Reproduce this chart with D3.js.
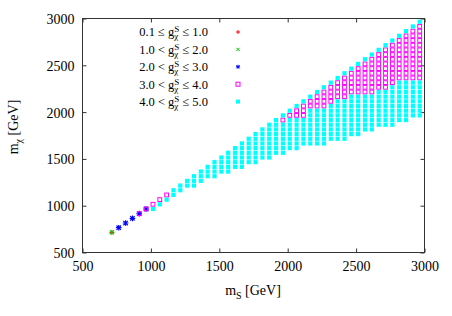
<!DOCTYPE html>
<html lang="en">
    <head>
        <meta charset="utf-8">
        <title>m_S vs m_chi scan</title>
        <script type="text/javascript" src="https://d3js.org/d3.v7.min.js"></script>
        <style>
            body { margin: 0; background: #fff; }
            svg { display: block; }
            text { font-family: "Liberation Serif", "DejaVu Serif", serif; fill: #000; }
            .axis text { font-size: 14px; }
        </style>
    </head>
    <body>
        <script>
            // data (GeV); scan grid is 50 GeV in both masses
            const xTicks = [500, 1000, 1500, 2000, 2500, 3000];
            const yTicks = [500, 1000, 1500, 2000, 2500, 3000];
            const gridStep = 50;

            // 0.1 <= g <= 1.0 and 1.0 < g <= 2.0 : single point at the low end
            const redPts = [[715, 715]];
            const greenPts = [[715, 715]];
            // 2.0 < g <= 3.0
            const bluePts = [[765, 765], [815, 815], [865, 865], [915, 915], [965, 965]];

            // 4.0 < g <= 5.0 : columns of filled squares, from cyanLow up to the column top
            const cyanX   = [1015, 1065, 1115, 1165, 1215, 1265, 1315, 1365, 1415, 1465,
                             1515, 1565, 1615, 1665, 1715, 1765, 1815, 1865, 1915, 1965,
                             2015, 2065, 2115, 2165, 2215, 2265, 2315, 2365, 2415, 2465,
                             2515, 2565, 2615, 2665, 2715, 2765, 2815, 2865, 2915, 2965];
            const cyanTop = [1015, 1065, 1115, 1165, 1215, 1265, 1315, 1365, 1415, 1465,
                             1515, 1565, 1615, 1665, 1715, 1765, 1815, 1865, 1915, 1965,
                             2015, 2065, 2115, 2165, 2215, 2265, 2315, 2365, 2415, 2465,
                             2515, 2565, 2615, 2665, 2715, 2765, 2815, 2865, 2915, 2965];
            const cyanLow = [965, 1015, 1065, 1115, 1165, 1215, 1215, 1265, 1315, 1315,
                             1365, 1365, 1415, 1415, 1465, 1465, 1515, 1515, 1565, 1565,
                             1615, 1615, 1665, 1665, 1665, 1665, 1715, 1715, 1715, 1765,
                             1765, 1815, 1815, 1865, 1865, 1865, 1915, 1915, 1965, 1965];

            // 3.0 < g <= 4.0 : open squares, magLow..magHigh in each column
            const magX    = [915, 965, 1015, 1065, 1115, 1965, 2015, 2065, 2115, 2165,
                             2215, 2265, 2315, 2365, 2415, 2465, 2515, 2565, 2615, 2665,
                             2715, 2765, 2815, 2865, 2915, 2965];
            const magHigh = [915, 965, 1015, 1065, 1115, 1915, 1965, 2015, 2065, 2115,
                             2165, 2215, 2265, 2315, 2365, 2415, 2465, 2515, 2565, 2615,
                             2665, 2715, 2765, 2815, 2865, 2915];
            const magLow  = [915, 965, 1015, 1065, 1115, 1915, 1965, 1965, 1965, 2065,
                             2065, 2065, 2115, 2165, 2165, 2215, 2215, 2215, 2215, 2265,
                             2265, 2315, 2365, 2365, 2365, 2365];

            const legendLabels = [
                ["0.1 \u2264 g", "\u2264 1.0"],
                ["1.0 < g", "\u2264 2.0"],
                ["2.0 < g", "\u2264 3.0"],
                ["3.0 < g", "\u2264 4.0"],
                ["4.0 < g", "\u2264 5.0"]
            ];

            // build point lists from the column ranges
            const magPts = [];
            magX.forEach(function(x, i) {
                for (let y = magHigh[i]; y >= magLow[i]; y -= gridStep) magPts.push([x, y]);
            });
            const cyanPts = [];
            cyanX.forEach(function(x, i) {
                const j = magX.indexOf(x);
                for (let y = cyanTop[i]; y >= cyanLow[i]; y -= gridStep) {
                    if (j >= 0 && y <= magHigh[j] && y >= magLow[j]) continue;
                    cyanPts.push([x, y]);
                }
            });

            // draw svg
            const w = 452;
            const h = 316;
            const padL = 82.5, padR = 424.5, padT = 18.5, padB = 252.5;

            const svg = d3.select("body")
                        .append("svg")
                        .attr("width", w)
                        .attr("height", h);

            const xScale = d3.scaleLinear().domain([500, 3000]).range([padL, padR]);
            const yScale = d3.scaleLinear().domain([500, 3000]).range([padB, padT]);

            const tickLen = 4;
            const fmt = d3.format("d");
            const xAxis = d3.axisBottom(xScale).tickValues(xTicks).tickSize(-tickLen).tickPadding(9).tickFormat(fmt);
            const yAxis = d3.axisLeft(yScale).tickValues(yTicks).tickSize(-tickLen).tickPadding(8).tickFormat(fmt);

            const gx = svg.append("g")
                .attr("class", "x axis")
                .attr("transform", `translate(0,${padB})`)
                .call(xAxis);
            const gy = svg.append("g")
                .attr("class", "y axis")
                .attr("transform", `translate(${padL},0)`)
                .call(yAxis);
            // mirrored ticks on top and right
            svg.append("g")
                .attr("transform", `translate(0,${padT})`)
                .call(d3.axisTop(xScale).tickValues(xTicks).tickSize(-tickLen).tickFormat(""));
            svg.append("g")
                .attr("transform", `translate(${padR},0)`)
                .call(d3.axisRight(yScale).tickValues(yTicks).tickSize(-tickLen).tickFormat(""));

            svg.selectAll(".domain").remove();
            svg.selectAll(".tick line").attr("stroke", "#333");
            gx.selectAll("text").attr("font-size", 14);
            gy.selectAll("text").attr("font-size", 14).attr("dy", "0.35em");

            svg.append("rect")
                .attr("x", padL).attr("y", padT)
                .attr("width", padR - padL).attr("height", padB - padT)
                .attr("fill", "none")
                .attr("stroke", "#333")
                .attr("stroke-width", 1);

            // marker helpers
            function plus(g, cx, cy, s, color, sw) {
                g.append("path")
                    .attr("d", `M${cx - s},${cy}H${cx + s}M${cx},${cy - s}V${cy + s}`)
                    .attr("stroke", color).attr("stroke-width", sw || 1).attr("fill", "none");
            }
            function cross(g, cx, cy, s, color, sw) {
                g.append("path")
                    .attr("d", `M${cx - s},${cy - s}L${cx + s},${cy + s}M${cx - s},${cy + s}L${cx + s},${cy - s}`)
                    .attr("stroke", color).attr("stroke-width", sw || 1).attr("fill", "none");
            }
            function openSquare(g, cx, cy, s, color) {
                g.append("rect")
                    .attr("x", cx - s).attr("y", cy - s)
                    .attr("width", 2 * s).attr("height", 2 * s)
                    .attr("fill", "none").attr("stroke", color).attr("stroke-width", 1);
            }
            function fillSquare(g, cx, cy, s, color) {
                g.append("rect")
                    .attr("x", cx - s).attr("y", cy - s)
                    .attr("width", 2 * s).attr("height", 2 * s)
                    .attr("fill", color);
            }

            const pts = svg.append("g").attr("id", "points");
            redPts.forEach(d => plus(pts, xScale(d[0]), yScale(d[1]), 2.5, "#ff0000"));
            greenPts.forEach(d => cross(pts, xScale(d[0]), yScale(d[1]), 2, "#00c000", 1.2));
            bluePts.forEach(function(d) {
                plus(pts, xScale(d[0]), yScale(d[1]), 2.8, "#0000ff", 1.2);
                cross(pts, xScale(d[0]), yScale(d[1]), 2.2, "#0000ff", 1.2);
            });
            magPts.forEach(d => openSquare(pts, xScale(d[0]), yScale(d[1]), 1.9, "#ff00ff"));
            cyanPts.forEach(d => fillSquare(pts, xScale(d[0]), yScale(d[1]), 2.1, "#00ffff"));

            // legend: one text per row, g with stacked superscript S / subscript chi
            const legX = 209, legY0 = 32, legDy = 17.4, markX = 238;
            const leg = svg.append("g").attr("class", "legend");
            legendLabels.forEach(function(lab, i) {
                const y = legY0 + i * legDy;
                const t = leg.append("text")
                    .attr("x", 0).attr("y", y).attr("dy", "0.35em")
                    .attr("font-size", 12.5);
                t.append("tspan").text(lab[0]);
                const sup = t.append("tspan").attr("font-size", 9).attr("dy", -4).text("S");
                const sw = sup.node().getComputedTextLength();
                const sub = t.append("tspan").attr("font-size", 9).attr("dy", 7).attr("dx", -sw).text("\u03c7");
                const cw = sub.node().getComputedTextLength();
                t.append("tspan").attr("dy", -3).attr("dx", Math.max(0, sw - cw) + 3).text(lab[1]);
                const tw = t.node().getComputedTextLength();
                t.attr("x", legX - tw);
            });
            plus(leg, markX, legY0, 2, "#ff0000");
            cross(leg, markX, legY0 + legDy, 1.6, "#00c000");
            plus(leg, markX, legY0 + 2 * legDy, 2, "#0000ff");
            cross(leg, markX, legY0 + 2 * legDy, 1.6, "#0000ff");
            openSquare(leg, markX, legY0 + 3 * legDy, 2, "#ff00ff");
            fillSquare(leg, markX, legY0 + 4 * legDy, 2, "#00ffff");

            // axis titles
            const xt = svg.append("text")
                .attr("x", 253).attr("y", 295)
                .attr("text-anchor", "middle").attr("font-size", 14);
            xt.append("tspan").text("m");
            xt.append("tspan").attr("font-size", 10).attr("dy", 4).text("S");
            xt.append("tspan").attr("dy", -4).text(" [GeV]");

            const yt = svg.append("text")
                .attr("transform", "translate(18,127) rotate(-90)")
                .attr("text-anchor", "middle").attr("font-size", 14);
            yt.append("tspan").text("m");
            yt.append("tspan").attr("font-size", 10).attr("dy", 4).text("\u03c7");
            yt.append("tspan").attr("dy", -4).text(" [GeV]");
        </script>
    </body>
</html>
